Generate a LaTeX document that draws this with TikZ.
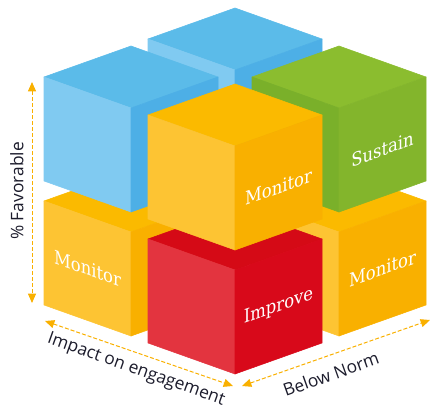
\documentclass[tikz,border=0pt]{standalone}
\usepackage{fontspec}
\usepackage{xcolor}
\usepackage{tikz}
\usetikzlibrary{arrows.meta}
\setsansfont{Open Sans}
\newfontfamily\rotulo[FakeStretch=0.88]{DejaVu Serif}
\definecolor{naranja}{HTML}{F9B000}
\definecolor{tinta}{HTML}{1C1C2C}
% caras de cada color: superior, izquierda, derecha
\definecolor{azulsup}{HTML}{5BBBE9}
\definecolor{azulizq}{HTML}{80CAF1}
\definecolor{azulder}{HTML}{4DAFE6}
\definecolor{amarillosup}{HTML}{FBBA00}
\definecolor{amarilloizq}{HTML}{FDC433}
\definecolor{amarilloder}{HTML}{F9B000}
\definecolor{verdesup}{HTML}{8BBD2F}
\definecolor{verdeizq}{HTML}{7AB02A}
\definecolor{verdeder}{HTML}{83B52C}
\definecolor{rojosup}{HTML}{D50A16}
\definecolor{rojoizq}{HTML}{E3343F}
\definecolor{rojoder}{HTML}{D8091A}

\begin{document}
\begin{tikzpicture}[
    x=0.75pt, y=-0.75pt,
    cara/.style={fill=#1, draw=#1, line width=0.4pt, line join=round},
    pics/cubo/.style={code={
        \path[cara=#1sup] (0,0) -- (-87,31) -- (0,62) -- (87,31) -- cycle;
        \path[cara=#1izq] (-87,31) -- (0,62) -- (0,166) -- (-87,135) -- cycle;
        \path[cara=#1der] (0,62) -- (87,31) -- (87,135) -- (0,166) -- cycle;
        \coordinate (-izq) at (-43.5,98.5);
        \coordinate (-der) at (43.5,98.5);
    }},
    etiqueta/.style={text=white, inner sep=0pt, font=\rotulo\fontsize{14}{16}\selectfont},
    ejetexto/.style={text=tinta, inner sep=0pt, font=\sffamily\fontsize{13}{15}\selectfont},
    eje/.style={{Triangle[width=6pt,length=7pt]}-{Triangle[width=6pt,length=7pt]}, naranja, line width=0.75pt, dash pattern=on 3pt off 1.5pt}
]
\useasboundingbox (0,0) rectangle (438,416);

% capa inferior
\pic (abajoizq) at (131,170) {cubo=amarillo};
\pic (abajoder) at (339,170) {cubo=amarillo};
\pic (abajofrente) at (235,208) {cubo=rojo};

% capa superior
\pic (arriba) at (235,8) {cubo=azul};
\pic (arribaizq) at (131,46) {cubo=azul};
\pic (arribader) at (339,46) {cubo=verde};
\pic (frente) at (235,84) {cubo=amarillo};

\node (monitor1) [etiqueta, yslant=0.356, yshift=-3.5pt] at (frente-der) {Monitor};
\node (sustain) [etiqueta, yslant=0.356, yshift=-3.5pt] at (arribader-der) {Sustain};
\node (monitor2) [etiqueta, yslant=-0.356] at (abajoizq-izq) {Monitor};
\node (improve) [etiqueta, yslant=0.356] at (abajofrente-der) {Improve};
\node (monitor3) [etiqueta, yslant=0.356] at (abajoder-der) {Monitor};

% ejes
\coordinate (v1) at (32,82);
\coordinate (v2) at (32,303);
\coordinate (i1) at (45,321);
\coordinate (i2) at (233,386);
\coordinate (n1) at (242,386);
\coordinate (n2) at (430,320);

\draw [eje] (v1) -- (v2);
\draw [eje] (i1) -- (i2);
\draw [eje] (n1) -- (n2);

\node (favorable) [ejetexto, rotate=90] at (17,191) {\% Favorable};
\node (impacto) [ejetexto, rotate=-19.6] at (136,370) {Impact on engagement};
\node (norma) [ejetexto, rotate=19.6] at (331,374) {Below Norm};

\end{tikzpicture}
\end{document}
